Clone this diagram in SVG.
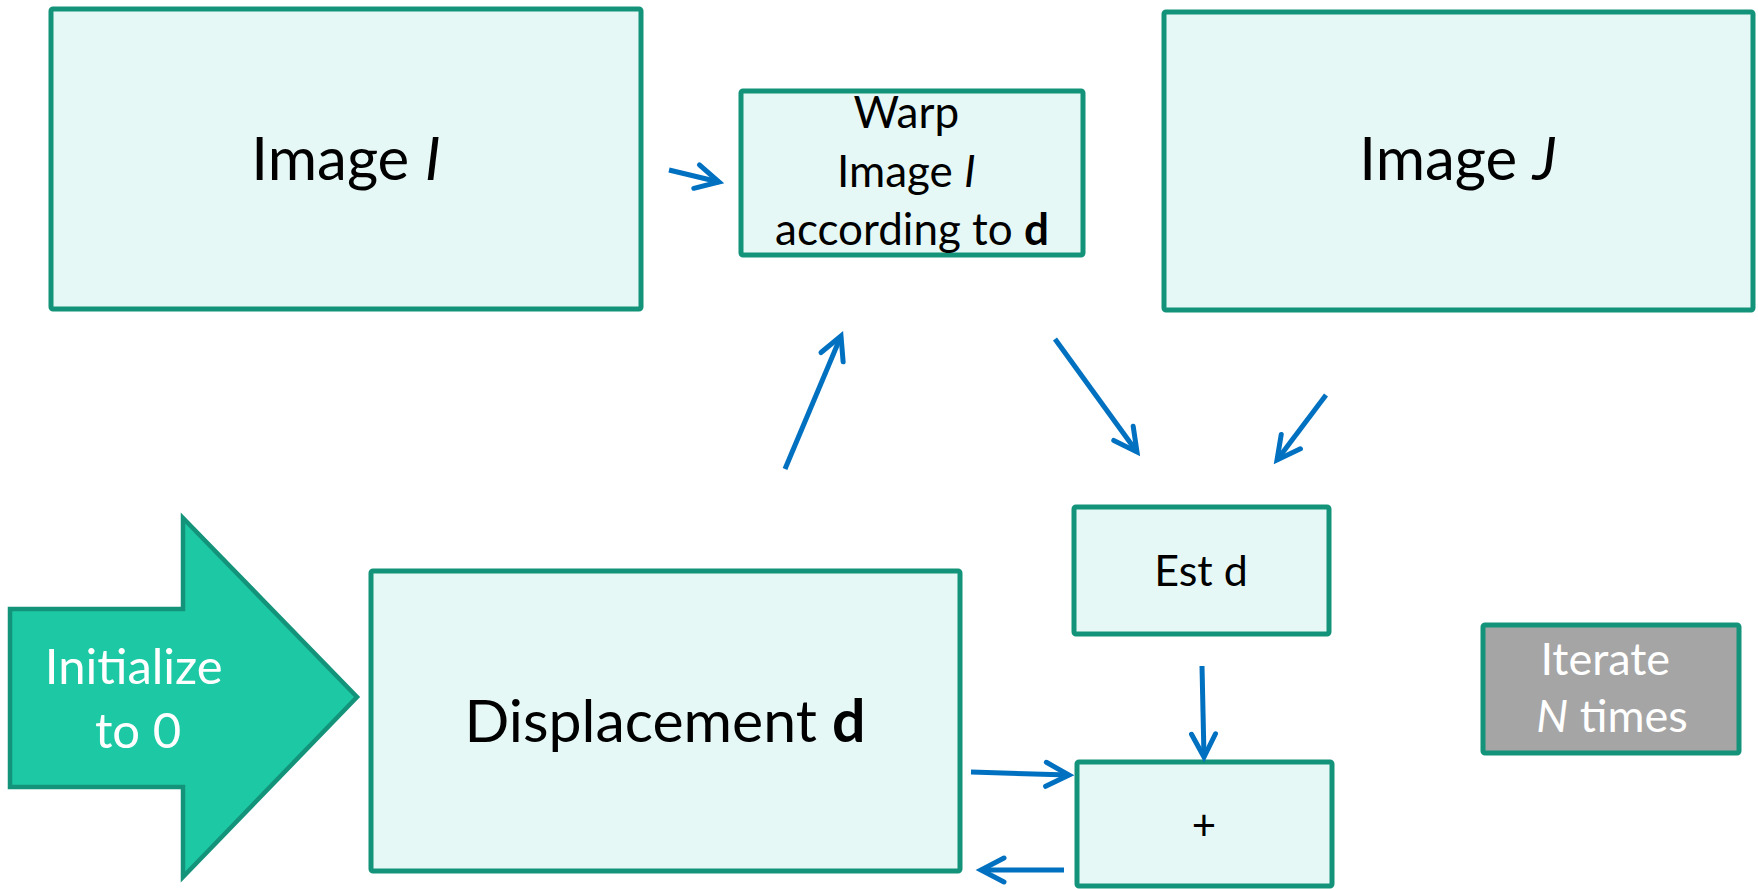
<svg xmlns="http://www.w3.org/2000/svg" width="1758" height="889" viewBox="0 0 1758 889">
  <style>
    .box { fill: #E6F8F6; stroke: #13937A; stroke-width: 5; stroke-linejoin: round; }
    .grey { fill: #A5A5A5; stroke: #13937A; stroke-width: 5; stroke-linejoin: round; }
    .init { fill: #1DC8A5; stroke: #13937A; stroke-width: 4.5; stroke-linejoin: miter; }
    .lbl { font-family: Lato, "Open Sans", "Liberation Sans", sans-serif; fill: #000; text-anchor: middle; }
    .wht { fill: #FFFFFF; }
    .conn { stroke: #0070C0; stroke-width: 5; fill: none; stroke-linecap: butt; marker-end: url(#chev); }
  </style>
  <defs>
    <marker id="chev" markerUnits="userSpaceOnUse" viewBox="-32 -20 40 40" refX="0" refY="0" markerWidth="40" markerHeight="40" orient="auto">
      <path d="M-23,-12 L0,0 L-23,12" fill="none" stroke="#0070C0" stroke-width="5" stroke-linecap="round" stroke-linejoin="miter"/>
    </marker>
  </defs>

  <rect width="1758" height="889" fill="#FFFFFF"/>

  <g id="image-i">
    <rect class="box" x="51" y="9" width="590" height="300" rx="2"/>
    <text class="lbl" x="346" y="180" font-size="60">Image <tspan font-style="italic">I</tspan></text>
  </g>

  <g id="warp">
    <rect class="box" x="741" y="91" width="342" height="164" rx="2"/>
    <text class="lbl" font-size="44">
      <tspan x="912" y="128">Warp</tspan>
      <tspan x="912" y="187">Image <tspan font-style="italic">I</tspan></tspan>
      <tspan x="912" y="245">according to <tspan font-weight="bold">d</tspan></tspan>
    </text>
  </g>

  <g id="image-j">
    <rect class="box" x="1164" y="12" width="589" height="298" rx="2"/>
    <text class="lbl" x="1458" y="180" font-size="60">Image <tspan font-style="italic">J</tspan></text>
  </g>

  <g id="est-d">
    <rect class="box" x="1074" y="507" width="255" height="127" rx="2"/>
    <text class="lbl" x="1201" y="586" font-size="43">Est d</text>
  </g>

  <g id="plus">
    <rect class="box" x="1077" y="762" width="255" height="124" rx="2"/>
    <text class="lbl" x="1204" y="840" font-size="42">+</text>
  </g>

  <g id="displacement">
    <rect class="box" x="371" y="571" width="589" height="300" rx="2"/>
    <text class="lbl" x="665" y="742" font-size="59">Displacement <tspan font-weight="bold">d</tspan></text>
  </g>

  <g id="iterate">
    <rect class="grey" x="1483" y="625" width="256" height="128" rx="2"/>
    <text class="lbl wht" font-size="45">
      <tspan x="1611" y="675">Iterate</tspan>
      <tspan x="1612" y="732"><tspan font-style="italic">N</tspan> times</tspan>
    </text>
  </g>

  <g id="initialize">
    <polygon class="init" points="10,609 183,609 183,518 357,697 183,877 183,787 10,787"/>
    <text class="lbl wht" font-size="49">
      <tspan x="140" y="684">Initialize</tspan>
      <tspan x="138" y="748">to 0</tspan>
    </text>
  </g>

  <g id="connectors">
    <line class="conn" x1="669" y1="170" x2="719" y2="182"/>
    <line class="conn" x1="785" y1="469" x2="841" y2="336"/>
    <line class="conn" x1="1055" y1="339" x2="1137" y2="452"/>
    <line class="conn" x1="1326" y1="395" x2="1277" y2="460"/>
    <line class="conn" x1="1202" y1="666" x2="1204" y2="757"/>
    <line class="conn" x1="971" y1="772" x2="1069" y2="775"/>
    <line class="conn" x1="1064" y1="870" x2="981" y2="870"/>
  </g>
</svg>
